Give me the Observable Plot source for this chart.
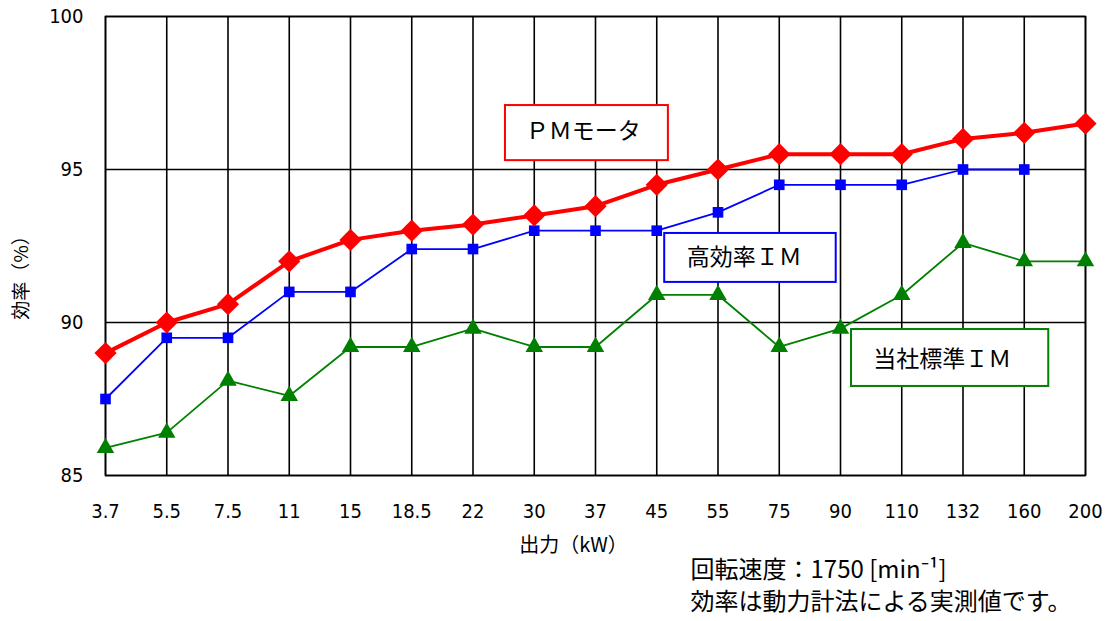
<!DOCTYPE html>
<html><head><meta charset="utf-8">
<script src="https://cdn.jsdelivr.net/npm/d3@7"></script>
<script src="https://cdn.jsdelivr.net/npm/@observablehq/plot@0.6"></script>
<style>
body{margin:0;background:#fff;}
#chart svg{font-family:"Liberation Sans Narrow","DejaVu Sans Condensed","Noto Sans CJK JP",sans-serif;}
</style></head><body><div id="chart"></div>
<script>
const outputs = ["3.7","5.5","7.5","11","15","18.5","22","30","37","45","55","75","90","110","132","160","200"];
const pmMotor = [89.0,90.0,90.6,92.0,92.7,93.0,93.2,93.5,93.8,94.5,95.0,95.5,95.5,95.5,96.0,96.2,96.5];
const highEffIM = [87.5,89.5,89.5,91.0,91.0,92.4,92.4,93.0,93.0,93.0,93.6,94.5,94.5,94.5,95.0,95.0,null];
const standardIM = [85.9,86.4,88.1,87.6,89.2,89.2,89.8,89.2,89.2,90.9,90.9,89.2,89.8,90.9,92.6,92.0,92.0];
const yTicks = [85,90,95,100];
const seriesNames = ["ＰＭモータ","高効率ＩＭ","当社標準ＩＭ"];
const seriesColors = ["#ff0000","#0000ff","#008000"];
// annotation boxes (x in category index units, y in %)
const boxX1 = [6.53, 9.13, 12.18];
const boxX2 = [9.19, 11.93, 15.40];
const boxY1 = [95.29, 91.31, 87.91];
const boxY2 = [97.09, 92.91, 89.77];
const labelX = [7.80, 10.43, 13.66];
const labelY = [96.24, 92.12, 88.80];
const notes = ["回転速度：1750 [min⁻¹]","効率は動力計法による実測値です。"];

const mk = arr => arr.map((v,i)=>({i, v})).filter(d=>d.v!=null);
const pm = mk(pmMotor), he = mk(highEffIM), st = mk(standardIM);
const boxes = seriesNames.map((n,k)=>({n, x1:boxX1[k], x2:boxX2[k], y1:boxY1[k], y2:boxY2[k], lx:labelX[k], ly:labelY[k], c:seriesColors[k]}));
const xIdx = d3.range(outputs.length);

const chart = Plot.plot({
  width: 1107, height: 621,
  marginLeft: 105, marginRight: 22, marginTop: 16, marginBottom: 146,
  style: {fontSize: "20px", color: "#000", background: "#fff"},
  x: {domain: [0, outputs.length-1]},
  y: {domain: [85, 100]},
  marks: [
    Plot.gridX(xIdx, {stroke: "#000", strokeOpacity: 1, strokeWidth: 1.6}),
    Plot.gridY(yTicks, {stroke: "#000", strokeOpacity: 1, strokeWidth: 1.6}),
    Plot.frame({stroke: "#000", strokeWidth: 1.6}),
    Plot.axisX(xIdx, {tickSize: 0, tickPadding: 28, tickFormat: i => outputs[i], label: null, fontSize: 20}),
    Plot.axisY(yTicks, {tickSize: 0, tickPadding: 22, label: null, fontSize: 20}),
    Plot.text(["出力（kW）"], {frameAnchor: "bottom", dy: 76, dx: -22, fontSize: 20, fontFamily: "Noto Sans CJK JP"}),
    Plot.text(["効率（%）"], {frameAnchor: "left", textAnchor: "middle", dx: -84, dy: 27, rotate: -90, fontSize: 19, fontFamily: "Noto Sans CJK JP"}),
    Plot.rect(boxes, {x1:"x1", x2:"x2", y1:"y1", y2:"y2", fill:"#fff", stroke: d=>d.c, strokeWidth: 2}),
    Plot.text(boxes, {x:"lx", y:"ly", text:"n", fontSize: 23, fill:"#000", fontFamily:"Noto Sans CJK JP"}),
    Plot.line(st, {x:"i", y:"v", stroke: seriesColors[2], strokeWidth: 1.8}),
    Plot.dot(st, {x:"i", y:"v", symbol:"triangle", fill: seriesColors[2], r: 6.5}),
    Plot.line(he, {x:"i", y:"v", stroke: seriesColors[1], strokeWidth: 1.8}),
    Plot.dot(he, {x:"i", y:"v", symbol:"square", fill: seriesColors[1], r: 6}),
    Plot.line(pm, {x:"i", y:"v", stroke: seriesColors[0], strokeWidth: 4}),
    Plot.dot(pm, {x:"i", y:"v", symbol:"diamond2", fill: seriesColors[0], r: 10}),
    Plot.text([notes[0]], {frameAnchor:"bottom-left", textAnchor:"start", dx: 585, dy: 102, fontSize: 24, fontFamily:"Noto Sans CJK JP"}),
    Plot.text([notes[1]], {frameAnchor:"bottom-left", textAnchor:"start", dx: 585, dy: 134, fontSize: 24, fontFamily:"Noto Sans CJK JP"})
  ]
});
document.getElementById("chart").append(chart);
</script></body></html>
